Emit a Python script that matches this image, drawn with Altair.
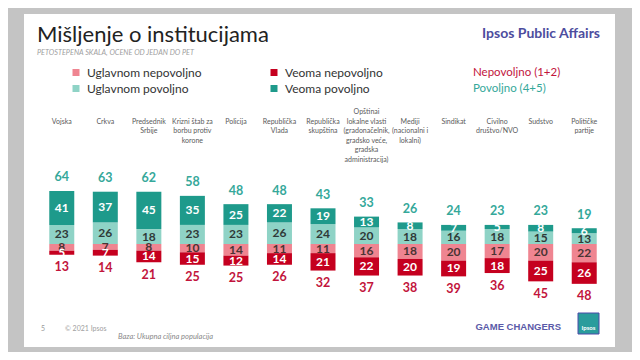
import altair as alt
import pandas as pd

# ---------------- data ----------------
institutions = [
    "Vojska", "Crkva", "Predsednik Srbije", "Krizni štab za borbu protiv korone",
    "Policija", "Republička Vlada", "Republička skupština",
    "Opštinai lokalne vlasti", "Mediji", "Sindikat", "Civilno društvo/NVO",
    "Sudstvo", "Političke partije",
]
category_labels = [
    "Vojska", "Crkva", "Predsednik\nSrbije", "Krizni štab za\nborbu protiv\nkorone",
    "Policija", "Republička\nVlada", "Republička\nskupština",
    "Opštinai\nlokalne vlasti\n(gradonačelnik,\ngradsko veće,\ngradska\nadministracija)",
    "Mediji\n(nacionalni i\nlokalni)", "Sindikat", "Civilno\ndruštvo/NVO",
    "Sudstvo", "Političke\npartije",
]
veoma_povoljno = [41, 37, 45, 35, 25, 22, 19, 13, 8, 7, 5, 8, 6]
uglavnom_povoljno = [23, 26, 18, 23, 23, 26, 24, 20, 18, 16, 18, 15, 13]
uglavnom_nepovoljno = [8, 7, 8, 10, 14, 11, 11, 16, 18, 20, 17, 20, 22]
veoma_nepovoljno = [5, 7, 14, 15, 12, 14, 21, 22, 20, 19, 18, 25, 26]
povoljno_total = [64, 63, 62, 58, 48, 48, 43, 33, 26, 24, 23, 23, 19]
nepovoljno_total = [13, 14, 21, 25, 25, 26, 32, 37, 38, 39, 36, 45, 48]

# legend fills column by column: column 1 = "Uglavnom ...", column 2 = "Veoma ..."
series_names = ["Uglavnom nepovoljno", "Uglavnom povoljno", "Veoma nepovoljno", "Veoma povoljno"]
series_colors = ["#ef8591", "#8fd3c6", "#c5001f", "#1e9a8b"]
label_colors = {"Uglavnom nepovoljno": "#4a3434", "Veoma nepovoljno": "#ffffff",
                "Uglavnom povoljno": "#2f3a38", "Veoma povoljno": "#ffffff"}

# ---------------- tables ----------------
rows = []
for i, inst in enumerate(institutions):
    up, vp = uglavnom_povoljno[i], veoma_povoljno[i]
    un, vn = uglavnom_nepovoljno[i], veoma_nepovoljno[i]
    segs = [
        ("Uglavnom povoljno", 0, up, up),
        ("Veoma povoljno", up, up + vp, vp),
        ("Uglavnom nepovoljno", -un, 0, un),
        ("Veoma nepovoljno", -(un + vn), -un, vn),
    ]
    for name, a, b, v in segs:
        rows.append({"inst": inst, "seg": name, "y0": a, "y1": b, "ym": (a + b) / 2,
                     "val": v, "tc": label_colors[name]})
seg_df = pd.DataFrame(rows)

# pad every category label with leading empty lines so all end on the same line
max_lines = max(lbl.count("\n") + 1 for lbl in category_labels)
padded_labels = ["\n" * (max_lines - (lbl.count("\n") + 1)) + lbl for lbl in category_labels]

tot_df = pd.DataFrame({
    "inst": institutions,
    "label": padded_labels,
    "pos_top": [a + b for a, b in zip(uglavnom_povoljno, veoma_povoljno)],
    "neg_bot": [-(a + b) for a, b in zip(uglavnom_nepovoljno, veoma_nepovoljno)],
    "pos_lab": povoljno_total,
    "neg_lab": nepovoljno_total,
})

# ---------------- scales ----------------
xscale = alt.Scale(type="band", domain=institutions, range=[32, 598], paddingInner=0, paddingOuter=0)
yscale = alt.Scale(domain=[-60, 80], range=[285.8, 169.6], nice=False, zero=False)
cscale = alt.Scale(domain=series_names, range=series_colors)

X = alt.X("inst:N", scale=xscale, sort=institutions, title=None,
          axis=alt.Axis(labels=False, title=None, grid=False, domainColor="#8a8a8a",
                        domainWidth=1.3, tickColor="#8a8a8a", tickSize=4, tickWidth=1,
                        bandPosition=1, tickExtra=True, offset=-108, zindex=1))
Xn = alt.X("inst:N", scale=xscale, sort=institutions, axis=None)

FONT = "Lato"


def label(text, x, y, size, color, weight="normal", style="normal", font=FONT,
          align="left", baseline="middle"):
    return alt.Chart(pd.DataFrame({"t": [text]})).mark_text(
        font=font, fontSize=size, color=color, fontWeight=weight, fontStyle=style,
        align=align, baseline=baseline
    ).encode(text="t:N", x=alt.value(x), y=alt.value(y))


card = alt.Chart(pd.DataFrame({"a": [0]})).mark_rect(color="white").encode(
    x=alt.value(16), x2=alt.value(607), y=alt.value(6), y2=alt.value(339))

bars = alt.Chart(seg_df).mark_bar(size=25).encode(
    x=X,
    y=alt.Y("y0:Q", scale=yscale, axis=None),
    y2="y1:Q",
    color=alt.Color("seg:N", scale=cscale, legend=alt.Legend(
        title=None, orient="none", legendX=62, legendY=58.5, columns=2,
        symbolType="square", symbolSize=49, symbolStrokeWidth=0, symbolOpacity=1,
        labelFont=FONT, labelFontSize=12, labelColor="#333333", labelOffset=5,
        columnPadding=66, rowPadding=4, padding=0)),
)

inner = alt.Chart(seg_df).mark_text(font=FONT, fontSize=12, fontWeight="bold", baseline="middle").encode(
    x=Xn, y=alt.Y("ym:Q", scale=yscale, axis=None), text="val:Q",
    color=alt.Color("tc:N", scale=None))

pos_tot = alt.Chart(tot_df).mark_text(font=FONT, fontSize=12.5, fontWeight="bold", color="#35a89a",
                                      baseline="middle", dy=-13.5).encode(
    x=Xn, y=alt.Y("pos_top:Q", scale=yscale, axis=None), text="pos_lab:Q")

neg_tot = alt.Chart(tot_df).mark_text(font=FONT, fontSize=12.5, fontWeight="bold", color="#c2143c",
                                      baseline="middle", dy=12.5).encode(
    x=Xn, y=alt.Y("neg_bot:Q", scale=yscale, axis=None), text="neg_lab:Q")

cats = alt.Chart(tot_df).mark_text(font=FONT, fontSize=7, color="#5a5a5a", baseline="top",
                                   lineBreak="\n", lineHeight=9.5).encode(
    x=Xn, y=alt.value(100), text="label:N")

logo = alt.Chart(pd.DataFrame({"a": [0]})).mark_rect(color="#2a9c9c", stroke="#4a4aa8", strokeWidth=1).encode(
    x=alt.value(570), x2=alt.value(591), y=alt.value(305), y2=alt.value(326))

layers = [
    card,
    bars, inner, pos_tot, neg_tot, cats,
    label("Mišljenje o institucijama", 29, 27, 22, "#222222"),
    label("PETOSTEPENA SKALA, OCENE  OD JEDAN DO PET", 29, 44.5, 7.3, "#a0a0a0", style="italic"),
    label("Nepovoljno (1+2)", 465, 64.5, 11.5, "#c2143c"),
    label("Povoljno (4+5)", 465, 80.5, 11.5, "#35a89a"),
    label("Ipsos Public Affairs", 592, 26, 14, "#4d4d9e", weight="bold", align="right"),
    label("5", 33, 321, 7, "#9a9a9a"),
    label("© 2021 Ipsos", 57, 321, 7, "#a0a0a0"),
    label("Baza: Ukupna ciljna populacija", 110, 328.5, 7.5, "#8a8a8a", style="italic"),
    label("GAME CHANGERS", 553, 319, 9.5, "#5a5aa8", weight="bold", font="Liberation Sans", align="right"),
    logo,
    label("Ipsos", 580.5, 320, 6, "#ffffff", weight="bold", align="center"),
]

chart = alt.layer(*layers).properties(
    width=624, height=344, padding=0, autosize=alt.AutoSizeParams(type="none"),
    background="#c4c4c4",
).configure_view(stroke=None)

chart.save("out.html", embed_options={"renderer": "svg", "actions": False})
